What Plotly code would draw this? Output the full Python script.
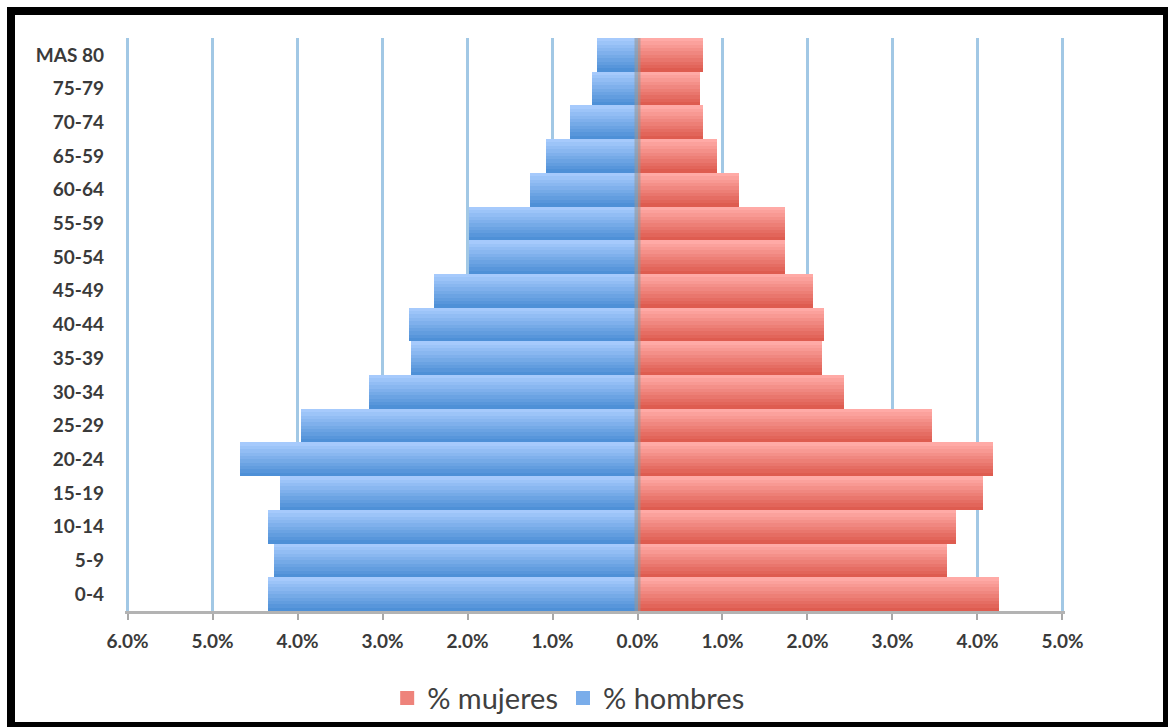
import plotly.graph_objects as go

age_groups = ["0-4", "5-9", "10-14", "15-19", "20-24", "25-29", "30-34", "35-39",
              "40-44", "45-49", "50-54", "55-59", "60-64", "65-59", "70-74", "75-79", "MAS 80"]
hombres = [4.35, 4.28, 4.35, 4.21, 4.68, 3.96, 3.16, 2.66, 2.69, 2.39, 1.98, 1.98,
           1.26, 1.08, 0.79, 0.53, 0.48]
mujeres = [4.25, 3.64, 3.75, 4.07, 4.18, 3.46, 2.43, 2.17, 2.20, 2.06, 1.74, 1.74,
           1.19, 0.94, 0.77, 0.73, 0.77]
tick_vals = [-6, -5, -4, -3, -2, -1, 0, 1, 2, 3, 4, 5]
tick_text = ["6.0%", "5.0%", "4.0%", "3.0%", "2.0%", "1.0%", "0.0%", "1.0%", "2.0%", "3.0%", "4.0%", "5.0%"]

# gradient colours (top -> bottom of each bar)
blue_top, blue_bottom = (166, 202, 252), (78, 144, 215)
red_top, red_bottom = (255, 170, 166), (222, 92, 80)
N_LAYERS = 10


def mix(c1, c2, t):
    return "rgb(%d,%d,%d)" % tuple(round(a + (b - a) * t) for a, b in zip(c1, c2))


fig = go.Figure()
series = [
    ("% mujeres", mujeres, 1, red_top, red_bottom, 1),
    ("% hombres", hombres, -1, blue_top, blue_bottom, 2),
]
for name, values, sign, ctop, cbot, rank in series:
    xs = [sign * v for v in values]
    for k in range(N_LAYERS):
        # layer k covers from the top of the band down to (N-k)/N of its height
        frac = (N_LAYERS - k) / N_LAYERS
        t = 1 - (k / (N_LAYERS - 1))  # 1 -> bottom colour, 0 -> top colour
        fig.add_trace(go.Bar(
            y=age_groups, x=xs, orientation="h", name=name,
            width=frac, offset=0.5 - frac,
            marker=dict(color=mix(ctop, cbot, t), line=dict(width=0)),
            legendgroup=name, showlegend=False,
        ))
    # legend entry only (no data drawn)
    mid = mix(ctop, cbot, 0.5)
    fig.add_trace(go.Bar(
        y=[None], x=[None], orientation="h", name=name,
        marker=dict(color=mid, line=dict(width=6, color=mid)),
        legendgroup=name, showlegend=True, legendrank=rank,
    ))

font_family = "Lato, 'Open Sans', sans-serif"
fig.update_layout(
    width=1168, height=727,
    margin=dict(l=125, r=103, t=38, b=116, autoexpand=False),
    paper_bgcolor="white", plot_bgcolor="white",
    barmode="overlay", bargap=0,
    font=dict(family=font_family, size=20, color="#3a3a3a"),
    legend=dict(orientation="h", x=0.472, xanchor="center", y=-0.152, yanchor="middle",
                font=dict(size=29, color="#404040"), traceorder="normal",
                bgcolor="rgba(0,0,0,0)", itemwidth=30, itemsizing="constant"),
    xaxis=dict(range=[-6.03, 5.03], tickvals=tick_vals, ticktext=tick_text,
               showgrid=True, gridcolor="#a2c8e5", gridwidth=3,
               zeroline=False, showline=True, linecolor="#b3b3b3", linewidth=3,
               ticks="outside", ticklen=6, tickwidth=2, tickcolor="#a8a8a8",
               ticklabelstandoff=5,
               tickfont=dict(size=19, color="#3a3a3a", weight="bold"), fixedrange=True),
    yaxis=dict(categoryorder="array", categoryarray=age_groups,
               showgrid=False, zeroline=False, showline=False, ticks="",
               ticklabelstandoff=20, tickfont=dict(size=19, color="#3a3a3a", weight="bold")),
    shapes=[
        dict(type="line", xref="x", yref="paper", x0=0, x1=0, y0=0, y1=1,
             line=dict(color="rgba(150,150,150,0.6)", width=6), layer="above"),
        dict(type="rect", xref="paper", yref="paper",
             x0=(11 - 125) / 940, x1=(1167 - 125) / 940,
             y0=(611 - 726) / 573, y1=(611 - 11) / 573,
             line=dict(color="black", width=8), fillcolor="rgba(0,0,0,0)", layer="above"),
    ],
)

fig.write_html("out.html")
